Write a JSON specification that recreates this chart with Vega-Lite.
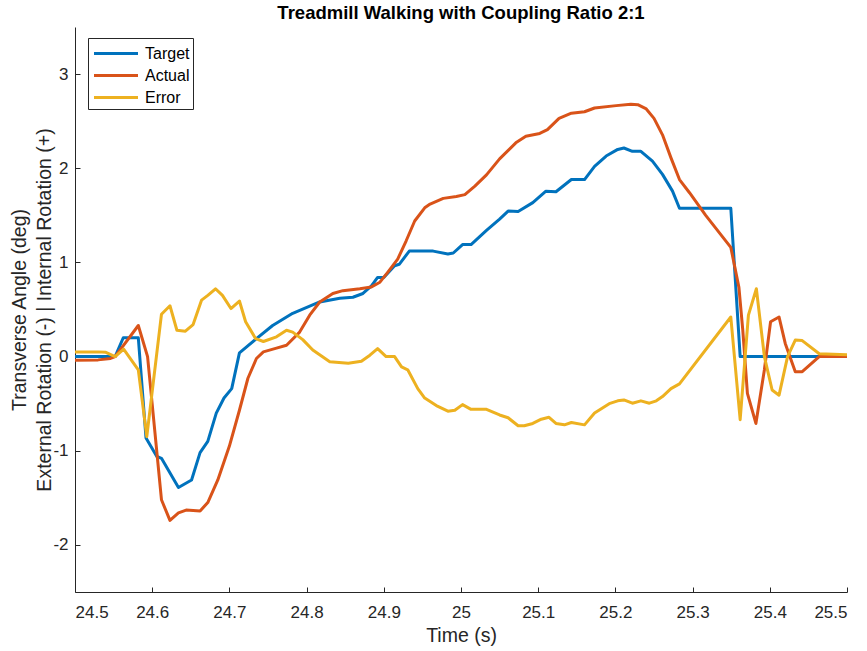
{
  "$schema": "https://vega.github.io/schema/vega-lite/v6.json",
  "width": 772,
  "height": 565,
  "autosize": "none",
  "padding": {"left": 75, "top": 27, "right": 20, "bottom": 59},
  "background": "white",
  "title": {
    "text": "Treadmill Walking with Coupling Ratio 2:1",
    "fontSize": 18.5,
    "fontWeight": "bold",
    "font": "Liberation Sans",
    "color": "#000000",
    "anchor": "middle",
    "frame": "group",
    "offset": 5
  },
  "data": {
    "values": [
      {"t": 24.5, "s": "Target", "v": 0},
      {"t": 24.552, "s": "Target", "v": 0},
      {"t": 24.5625, "s": "Target", "v": 0.2},
      {"t": 24.582, "s": "Target", "v": 0.2},
      {"t": 24.592, "s": "Target", "v": -0.865},
      {"t": 24.606, "s": "Target", "v": -1.06},
      {"t": 24.612, "s": "Target", "v": -1.08},
      {"t": 24.634, "s": "Target", "v": -1.39},
      {"t": 24.651, "s": "Target", "v": -1.31},
      {"t": 24.662, "s": "Target", "v": -1.02},
      {"t": 24.672, "s": "Target", "v": -0.9},
      {"t": 24.683, "s": "Target", "v": -0.6},
      {"t": 24.693, "s": "Target", "v": -0.44},
      {"t": 24.703, "s": "Target", "v": -0.34},
      {"t": 24.713, "s": "Target", "v": 0.04},
      {"t": 24.735, "s": "Target", "v": 0.19},
      {"t": 24.756, "s": "Target", "v": 0.33},
      {"t": 24.782, "s": "Target", "v": 0.46},
      {"t": 24.817, "s": "Target", "v": 0.58},
      {"t": 24.843, "s": "Target", "v": 0.62},
      {"t": 24.86, "s": "Target", "v": 0.63},
      {"t": 24.873, "s": "Target", "v": 0.67},
      {"t": 24.884, "s": "Target", "v": 0.75},
      {"t": 24.892, "s": "Target", "v": 0.84},
      {"t": 24.9, "s": "Target", "v": 0.84},
      {"t": 24.914, "s": "Target", "v": 0.965},
      {"t": 24.92, "s": "Target", "v": 0.98},
      {"t": 24.933, "s": "Target", "v": 1.12},
      {"t": 24.964, "s": "Target", "v": 1.12},
      {"t": 24.983, "s": "Target", "v": 1.09},
      {"t": 24.99, "s": "Target", "v": 1.1},
      {"t": 25.002, "s": "Target", "v": 1.19},
      {"t": 25.013, "s": "Target", "v": 1.19},
      {"t": 25.033, "s": "Target", "v": 1.34},
      {"t": 25.05, "s": "Target", "v": 1.46},
      {"t": 25.061, "s": "Target", "v": 1.545},
      {"t": 25.074, "s": "Target", "v": 1.54},
      {"t": 25.093, "s": "Target", "v": 1.635},
      {"t": 25.11, "s": "Target", "v": 1.757},
      {"t": 25.123, "s": "Target", "v": 1.75},
      {"t": 25.143, "s": "Target", "v": 1.88},
      {"t": 25.16, "s": "Target", "v": 1.88},
      {"t": 25.173, "s": "Target", "v": 2.02},
      {"t": 25.188, "s": "Target", "v": 2.13},
      {"t": 25.203, "s": "Target", "v": 2.2},
      {"t": 25.211, "s": "Target", "v": 2.215},
      {"t": 25.222, "s": "Target", "v": 2.18},
      {"t": 25.233, "s": "Target", "v": 2.18},
      {"t": 25.248, "s": "Target", "v": 2.075},
      {"t": 25.261, "s": "Target", "v": 1.935},
      {"t": 25.274, "s": "Target", "v": 1.757},
      {"t": 25.283, "s": "Target", "v": 1.575},
      {"t": 25.3495, "s": "Target", "v": 1.575},
      {"t": 25.3616, "s": "Target", "v": 0},
      {"t": 25.5, "s": "Target", "v": 0},

      {"t": 24.5, "s": "Actual", "v": -0.04},
      {"t": 24.53, "s": "Actual", "v": -0.035},
      {"t": 24.546, "s": "Actual", "v": -0.02},
      {"t": 24.552, "s": "Actual", "v": 0},
      {"t": 24.582, "s": "Actual", "v": 0.33},
      {"t": 24.594, "s": "Actual", "v": 0},
      {"t": 24.612, "s": "Actual", "v": -1.52},
      {"t": 24.623, "s": "Actual", "v": -1.74},
      {"t": 24.634, "s": "Actual", "v": -1.66},
      {"t": 24.644, "s": "Actual", "v": -1.63},
      {"t": 24.662, "s": "Actual", "v": -1.64},
      {"t": 24.672, "s": "Actual", "v": -1.55},
      {"t": 24.685, "s": "Actual", "v": -1.31},
      {"t": 24.7, "s": "Actual", "v": -0.95},
      {"t": 24.713, "s": "Actual", "v": -0.57},
      {"t": 24.724, "s": "Actual", "v": -0.23},
      {"t": 24.735, "s": "Actual", "v": -0.02},
      {"t": 24.744, "s": "Actual", "v": 0.05},
      {"t": 24.761, "s": "Actual", "v": 0.09},
      {"t": 24.774, "s": "Actual", "v": 0.12},
      {"t": 24.791, "s": "Actual", "v": 0.26},
      {"t": 24.804, "s": "Actual", "v": 0.44},
      {"t": 24.817, "s": "Actual", "v": 0.58},
      {"t": 24.834, "s": "Actual", "v": 0.67},
      {"t": 24.847, "s": "Actual", "v": 0.7},
      {"t": 24.869, "s": "Actual", "v": 0.72},
      {"t": 24.884, "s": "Actual", "v": 0.74},
      {"t": 24.895, "s": "Actual", "v": 0.79},
      {"t": 24.905, "s": "Actual", "v": 0.895},
      {"t": 24.918, "s": "Actual", "v": 1.035},
      {"t": 24.929, "s": "Actual", "v": 1.23},
      {"t": 24.94, "s": "Actual", "v": 1.44},
      {"t": 24.953, "s": "Actual", "v": 1.58},
      {"t": 24.96, "s": "Actual", "v": 1.62},
      {"t": 24.977, "s": "Actual", "v": 1.68},
      {"t": 24.994, "s": "Actual", "v": 1.7},
      {"t": 25.005, "s": "Actual", "v": 1.72},
      {"t": 25.018, "s": "Actual", "v": 1.81},
      {"t": 25.033, "s": "Actual", "v": 1.93},
      {"t": 25.05, "s": "Actual", "v": 2.1},
      {"t": 25.071, "s": "Actual", "v": 2.27},
      {"t": 25.084, "s": "Actual", "v": 2.34},
      {"t": 25.102, "s": "Actual", "v": 2.37},
      {"t": 25.112, "s": "Actual", "v": 2.41},
      {"t": 25.127, "s": "Actual", "v": 2.53},
      {"t": 25.143, "s": "Actual", "v": 2.585},
      {"t": 25.16, "s": "Actual", "v": 2.6},
      {"t": 25.173, "s": "Actual", "v": 2.64},
      {"t": 25.201, "s": "Actual", "v": 2.665},
      {"t": 25.22, "s": "Actual", "v": 2.68},
      {"t": 25.229, "s": "Actual", "v": 2.675},
      {"t": 25.24, "s": "Actual", "v": 2.63},
      {"t": 25.25, "s": "Actual", "v": 2.53},
      {"t": 25.261, "s": "Actual", "v": 2.355},
      {"t": 25.272, "s": "Actual", "v": 2.11},
      {"t": 25.283, "s": "Actual", "v": 1.88},
      {"t": 25.296, "s": "Actual", "v": 1.74},
      {"t": 25.317, "s": "Actual", "v": 1.5},
      {"t": 25.3495, "s": "Actual", "v": 1.16},
      {"t": 25.36, "s": "Actual", "v": 0.735},
      {"t": 25.365, "s": "Actual", "v": 0.28},
      {"t": 25.371, "s": "Actual", "v": -0.39},
      {"t": 25.382, "s": "Actual", "v": -0.71},
      {"t": 25.393, "s": "Actual", "v": -0.14},
      {"t": 25.401, "s": "Actual", "v": 0.37},
      {"t": 25.412, "s": "Actual", "v": 0.42},
      {"t": 25.42, "s": "Actual", "v": 0.14},
      {"t": 25.433, "s": "Actual", "v": -0.16},
      {"t": 25.442, "s": "Actual", "v": -0.16},
      {"t": 25.464, "s": "Actual", "v": 0},
      {"t": 25.5, "s": "Actual", "v": 0},

      {"t": 24.5, "s": "Error", "v": 0.05},
      {"t": 24.53, "s": "Error", "v": 0.05},
      {"t": 24.54, "s": "Error", "v": 0.045},
      {"t": 24.552, "s": "Error", "v": 0},
      {"t": 24.563, "s": "Error", "v": 0.08},
      {"t": 24.582, "s": "Error", "v": -0.14},
      {"t": 24.593, "s": "Error", "v": -0.85},
      {"t": 24.612, "s": "Error", "v": 0.45},
      {"t": 24.623, "s": "Error", "v": 0.54},
      {"t": 24.632, "s": "Error", "v": 0.28},
      {"t": 24.643, "s": "Error", "v": 0.27},
      {"t": 24.653, "s": "Error", "v": 0.34},
      {"t": 24.664, "s": "Error", "v": 0.6},
      {"t": 24.672, "s": "Error", "v": 0.65},
      {"t": 24.682, "s": "Error", "v": 0.72},
      {"t": 24.691, "s": "Error", "v": 0.65},
      {"t": 24.702, "s": "Error", "v": 0.51},
      {"t": 24.713, "s": "Error", "v": 0.59},
      {"t": 24.721, "s": "Error", "v": 0.37},
      {"t": 24.734, "s": "Error", "v": 0.19},
      {"t": 24.744, "s": "Error", "v": 0.16},
      {"t": 24.761, "s": "Error", "v": 0.21},
      {"t": 24.774, "s": "Error", "v": 0.28},
      {"t": 24.782, "s": "Error", "v": 0.26},
      {"t": 24.795, "s": "Error", "v": 0.18},
      {"t": 24.808, "s": "Error", "v": 0.07},
      {"t": 24.83, "s": "Error", "v": -0.055},
      {"t": 24.854, "s": "Error", "v": -0.07},
      {"t": 24.871, "s": "Error", "v": -0.05},
      {"t": 24.882, "s": "Error", "v": 0.015},
      {"t": 24.892, "s": "Error", "v": 0.085},
      {"t": 24.903, "s": "Error", "v": 0},
      {"t": 24.914, "s": "Error", "v": 0},
      {"t": 24.923, "s": "Error", "v": -0.11},
      {"t": 24.931, "s": "Error", "v": -0.14},
      {"t": 24.944, "s": "Error", "v": -0.34},
      {"t": 24.953, "s": "Error", "v": -0.44},
      {"t": 24.968, "s": "Error", "v": -0.52},
      {"t": 24.983, "s": "Error", "v": -0.58},
      {"t": 24.992, "s": "Error", "v": -0.57},
      {"t": 25.002, "s": "Error", "v": -0.51},
      {"t": 25.013, "s": "Error", "v": -0.56},
      {"t": 25.033, "s": "Error", "v": -0.56},
      {"t": 25.05, "s": "Error", "v": -0.62},
      {"t": 25.061, "s": "Error", "v": -0.65},
      {"t": 25.074, "s": "Error", "v": -0.735},
      {"t": 25.082, "s": "Error", "v": -0.735},
      {"t": 25.093, "s": "Error", "v": -0.71},
      {"t": 25.104, "s": "Error", "v": -0.665},
      {"t": 25.114, "s": "Error", "v": -0.645},
      {"t": 25.123, "s": "Error", "v": -0.71},
      {"t": 25.134, "s": "Error", "v": -0.725},
      {"t": 25.143, "s": "Error", "v": -0.7},
      {"t": 25.16, "s": "Error", "v": -0.725},
      {"t": 25.173, "s": "Error", "v": -0.6},
      {"t": 25.192, "s": "Error", "v": -0.5},
      {"t": 25.203, "s": "Error", "v": -0.47},
      {"t": 25.211, "s": "Error", "v": -0.46},
      {"t": 25.222, "s": "Error", "v": -0.495},
      {"t": 25.233, "s": "Error", "v": -0.47},
      {"t": 25.244, "s": "Error", "v": -0.495},
      {"t": 25.253, "s": "Error", "v": -0.47},
      {"t": 25.261, "s": "Error", "v": -0.425},
      {"t": 25.272, "s": "Error", "v": -0.34},
      {"t": 25.283, "s": "Error", "v": -0.29},
      {"t": 25.3495, "s": "Error", "v": 0.42},
      {"t": 25.3616, "s": "Error", "v": -0.67},
      {"t": 25.3723, "s": "Error", "v": 0.44},
      {"t": 25.3826, "s": "Error", "v": 0.72},
      {"t": 25.393, "s": "Error", "v": 0},
      {"t": 25.403, "s": "Error", "v": -0.355},
      {"t": 25.412, "s": "Error", "v": -0.41},
      {"t": 25.423, "s": "Error", "v": 0},
      {"t": 25.433, "s": "Error", "v": 0.175},
      {"t": 25.442, "s": "Error", "v": 0.17},
      {"t": 25.464, "s": "Error", "v": 0.03},
      {"t": 25.5, "s": "Error", "v": 0.02}
    ]
  },
  "mark": {"type": "line", "strokeWidth": 3, "strokeJoin": "round", "clip": true},
  "encoding": {
    "x": {
      "field": "t",
      "type": "quantitative",
      "scale": {"domain": [24.5, 25.5], "nice": false, "zero": false},
      "axis": {
        "title": "Time (s)",
        "values": [24.5, 24.6, 24.7, 24.8, 24.9, 25, 25.1, 25.2, 25.3, 25.4, 25.5],
        "format": ".1~f",
        "labelPadding": 17,
        "titlePadding": 6
      }
    },
    "y": {
      "field": "v",
      "type": "quantitative",
      "scale": {"domain": [-2.5, 3.5], "nice": false, "zero": false},
      "axis": {
        "title": ["Transverse Angle (deg)", "External Rotation (-) | Internal Rotation (+)"],
        "values": [-2, -1, 0, 1, 2, 3],
        "labelExpr": "'' + datum.value",
        "labelPadding": 12,
        "titlePadding": -2,
        "titleLineHeight": 25
      }
    },
    "color": {
      "field": "s",
      "type": "nominal",
      "sort": ["Target", "Actual", "Error"],
      "scale": {"domain": ["Target", "Actual", "Error"], "range": ["#0072BD", "#D95319", "#EDB120"]},
      "legend": {
        "title": null,
        "orient": "none",
        "legendX": 13,
        "legendY": 11,
        "symbolType": "M-2,0H2",
        "symbolSize": 484,
        "symbolStrokeWidth": 3,
        "labelFontSize": 16,
        "labelOffset": 29,
        "rowPadding": 1,
        "padding": 3,
        "strokeColor": "#262626",
        "fillColor": "white",
        "encode": {
          "symbols": {"update": {"x": {"value": 25}}}
        }
      }
    }
  },
  "config": {
    "view": {"stroke": null},
    "font": "Liberation Sans",
    "axis": {
      "grid": false,
      "domainColor": "#262626",
      "tickColor": "#262626",
      "labelColor": "#262626",
      "titleColor": "#262626",
      "tickSize": -5,
      "labelFontSize": 17,
      "titleFontSize": 19.5,
      "titleFontWeight": "normal",
      "labelFont": "Liberation Sans",
      "titleFont": "Liberation Sans"
    },
    "legend": {"labelFont": "Liberation Sans", "labelColor": "#000000"}
  }
}
